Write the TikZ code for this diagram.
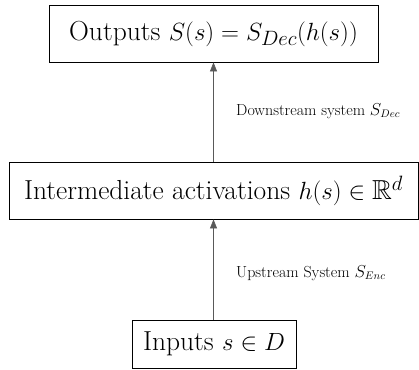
\documentclass[tikz,border=0pt]{standalone}
\usepackage{amsmath, amssymb}
\usepackage{tikz}
\usetikzlibrary{arrows.meta}

\begin{document}
\begin{tikzpicture}[x=1pt,y=-1pt,
  stagebox/.style={draw,thick,inner sep=0pt,minimum height=57pt,font=\fontsize{27.5}{32}\selectfont},
  flow/.style={-{Triangle[length=9pt,width=7pt]},draw=black!65,semithick},
  sysname/.style={anchor=west,inner sep=0pt,font=\fontsize{16}{19}\selectfont}]
  \useasboundingbox (0,0) rectangle (419,369);
  \node[stagebox,minimum width=329pt] (out) at (213.5,33.5) {Outputs $S(s) = S_{Dec}(h(s))$};
  \node[stagebox,minimum width=409pt] (mid) at (213.5,190.5) {Intermediate activations $h(s) \in \mathbb{R}^d$};
  \node[stagebox,minimum width=164pt,minimum height=48pt] (in) at (214,344) {Inputs $s \in D$};
  \draw[flow] (in.north -| mid.south) -- (mid.south);
  \draw[flow] (mid.north) -- (out.south);
  \node[sysname] (down) at (236,111) {Downstream system $S_{Dec}$};
  \node[sysname] (up) at (236,273) {Upstream System $S_{Enc}$};
\end{tikzpicture}
\end{document}
